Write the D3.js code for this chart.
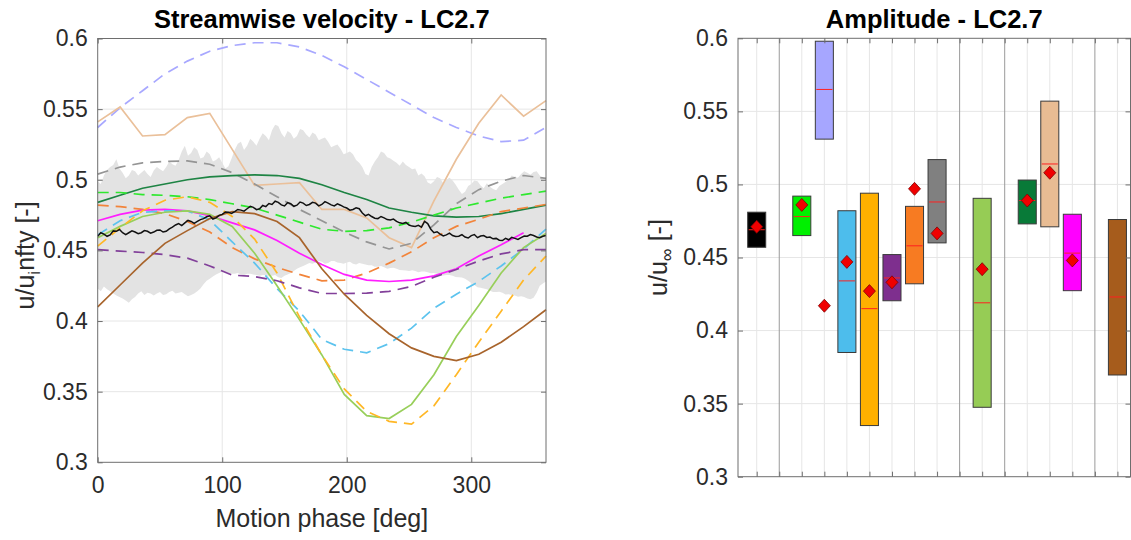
<!DOCTYPE html>
<html>
<head>
<meta charset="utf-8">
<script src="https://cdn.jsdelivr.net/npm/d3@7"></script>
<style>
  body { margin: 0; background: #fff; }
  svg { display: block; font-family: "Liberation Sans", Arial, Helvetica, sans-serif; }
</style>
</head>
<body>
<div id="chart"></div>
<script>
"use strict"

// ---------- left panel data: phase averaged u/u_inf ----------
const phase = d3.range(0, 361, 18)          // 21 samples, one every 18 deg
const phaseFine = d3.range(0, 360.1, 2.5)   // black line + grey band

const lavenderDash = [0.537,0.551,0.563,0.575,0.584,0.591,0.595,0.597,0.597,0.594,0.588,0.580,0.571,0.562,0.553,0.544,0.537,0.531,0.527,0.528,0.537]
const tanSolid     = [0.541,0.5515,0.531,0.532,0.544,0.547,0.5215,0.496,0.497,0.498,0.479,0.479,0.473,0.459,0.452,0.485,0.5145,0.540,0.560,0.545,0.556]
const grayDash     = [0.504,0.509,0.512,0.513,0.5134,0.511,0.505,0.497,0.488,0.479,0.471,0.463,0.456,0.451,0.455,0.468,0.483,0.493,0.499,0.503,0.501]
const darkGreen    = [0.484,0.489,0.494,0.497,0.500,0.502,0.503,0.5035,0.503,0.501,0.4965,0.491,0.486,0.480,0.477,0.4745,0.4735,0.474,0.476,0.479,0.482]
const greenDash    = [0.491,0.491,0.4895,0.489,0.488,0.486,0.483,0.480,0.475,0.470,0.465,0.4635,0.464,0.466,0.470,0.475,0.480,0.4835,0.487,0.4895,0.492]
const orangeDash   = [0.482,0.481,0.479,0.476,0.4705,0.463,0.452,0.444,0.438,0.433,0.4285,0.429,0.434,0.441,0.449,0.459,0.467,0.472,0.4775,0.480,0.4825]
const magentaSolid = [0.471,0.4755,0.4785,0.479,0.478,0.4745,0.4695,0.4645,0.457,0.448,0.440,0.433,0.429,0.428,0.429,0.432,0.437,0.446,0.454,0.4625,null]
const blueDash     = [0.461,0.471,0.477,0.478,0.478,0.4715,0.456,0.441,0.423,0.407,0.387,0.380,0.3775,0.384,0.395,0.409,0.419,0.428,0.439,0.451,0.465]
const lightGreen   = [0.459,0.467,0.474,0.477,0.478,0.4755,0.467,0.448,0.425,0.401,0.376,0.348,0.333,0.331,0.341,0.362,0.389,0.411,0.434,0.452,0.462]
const yellowDash   = [0.453,0.466,0.478,0.4855,0.488,0.484,0.474,0.458,0.434,0.403,0.376,0.352,0.336,0.329,0.327,0.340,0.362,0.385,0.407,0.429,0.446]
const purpleDash   = [0.4505,0.4495,0.4485,0.447,0.4445,0.439,0.4325,0.4315,0.4285,0.4235,0.4195,0.4195,0.4197,0.421,0.4245,0.431,0.4365,0.4425,0.4475,0.4505,0.4505]
const brownSolid   = [0.410,0.4255,0.441,0.455,0.464,0.4725,0.4775,0.476,0.4705,0.459,0.437,0.419,0.404,0.391,0.381,0.375,0.372,0.3765,0.385,0.396,0.408]

// measured signal, read at 0,5,...,360 and at the half steps in between
const blackAt5   = [0.460,0.4615,0.461,0.4635,0.4625,0.4625,0.463,0.4625,0.4635,0.463,0.4645,0.4635,0.4665,0.469,0.4695,0.4705,0.4705,0.4725,0.4745,0.473,0.4755,0.477,0.4775,0.4785,0.4795,0.4805,0.4795,0.481,0.4825,0.484,0.4815,0.483,0.482,0.4835,0.4825,0.4835,0.4825,0.4835,0.4815,0.482,0.480,0.479,0.4795,0.4745,0.474,0.4725,0.473,0.4715,0.4705,0.469,0.468,0.467,0.4665,0.469,0.4625,0.4615,0.461,0.4605,0.460,0.4595,0.4605,0.459,0.4605,0.4595,0.4585,0.457,0.4575,0.4585,0.459,0.460,0.4605,0.459,0.4605]
const blackHalf  = [0.4625,0.4600,0.4638,0.4648,0.4612,0.4638,0.4618,0.4640,0.4622,0.4642,0.4630,0.4652,0.4680,0.4676,0.4712,0.4692,0.4718,0.4738,0.4722,0.4748,0.4772,0.4762,0.4790,0.4778,0.4812,0.4788,0.4818,0.4832,0.4848,0.4822,0.4838,0.4812,0.4842,0.4818,0.4840,0.4815,0.4845,0.4822,0.4830,0.4808,0.4785,0.4802,0.4765,0.4755,0.4728,0.4740,0.4718,0.4722,0.4695,0.4698,0.4672,0.4678,0.4705,0.4650,0.4632,0.4602,0.4622,0.4598,0.4612,0.4588,0.4612,0.4602,0.4592,0.4582,0.4572,0.4585,0.4592,0.4578,0.4602,0.4612,0.4595,0.4600]
const bandHighAt5  = [0.499,0.503,0.509,0.5145,0.505,0.503,0.506,0.505,0.504,0.5065,0.5075,0.509,0.511,0.514,0.524,0.519,0.521,0.516,0.518,0.514,0.512,0.5095,0.521,0.527,0.524,0.527,0.529,0.531,0.535,0.538,0.530,0.533,0.531,0.535,0.530,0.532,0.529,0.527,0.524,0.522,0.519,0.518,0.512,0.504,0.509,0.516,0.519,0.515,0.512,0.513,0.509,0.508,0.5045,0.498,0.499,0.501,0.500,0.4995,0.493,0.4915,0.497,0.499,0.494,0.495,0.4925,0.497,0.500,0.502,0.504,0.505,0.5055,0.503,0.498]
const bandHighHalf = [0.497,0.507,0.5105,0.508,0.501,0.507,0.503,0.507,0.502,0.509,0.506,0.513,0.510,0.520,0.517,0.523,0.515,0.520,0.513,0.516,0.508,0.515,0.5255,0.521,0.529,0.524,0.533,0.528,0.539,0.533,0.5345,0.529,0.536,0.532,0.5335,0.528,0.530,0.523,0.525,0.518,0.520,0.514,0.509,0.503,0.513,0.520,0.516,0.5135,0.510,0.5105,0.5075,0.503,0.5025,0.497,0.502,0.4975,0.5015,0.4965,0.490,0.4955,0.4995,0.496,0.4975,0.4935,0.4955,0.4985,0.503,0.5015,0.506,0.5035,0.506,0.500]
const bandLowAt5   = [0.423,0.4245,0.421,0.418,0.416,0.413,0.417,0.421,0.420,0.418,0.4205,0.419,0.4215,0.420,0.419,0.4185,0.421,0.426,0.430,0.433,0.435,0.434,0.4335,0.433,0.4335,0.433,0.432,0.4325,0.432,0.431,0.432,0.434,0.437,0.439,0.441,0.4415,0.442,0.441,0.4425,0.441,0.4415,0.4405,0.441,0.440,0.4395,0.4385,0.438,0.4375,0.437,0.436,0.4355,0.4355,0.435,0.4345,0.434,0.433,0.4325,0.432,0.431,0.430,0.427,0.424,0.423,0.4215,0.4205,0.420,0.419,0.418,0.4175,0.416,0.4165,0.425,0.428]
const bandLowHalf  = [0.421,0.4225,0.4195,0.417,0.4145,0.4155,0.4195,0.4185,0.4195,0.4195,0.4185,0.4205,0.4195,0.4205,0.4175,0.4195,0.423,0.4285,0.4315,0.434,0.4345,0.4335,0.434,0.4325,0.4335,0.4325,0.4325,0.4315,0.4325,0.4305,0.433,0.4355,0.438,0.440,0.4405,0.4425,0.4405,0.4425,0.4415,0.4405,0.442,0.440,0.4405,0.4395,0.4385,0.439,0.437,0.4378,0.4362,0.4358,0.436,0.4345,0.435,0.4338,0.4335,0.4322,0.4325,0.4312,0.4308,0.4285,0.4255,0.4235,0.4225,0.4205,0.4208,0.4188,0.4185,0.4172,0.417,0.4155,0.420,0.4265]

const phaseTicks = [0, 100, 200, 300]
const velTicks = [0.3, 0.35, 0.4, 0.45, 0.5, 0.55, 0.6]
const velTickLabels = ["0.3", "0.35", "0.4", "0.45", "0.5", "0.55", "0.6"]

// ---------- right panel data: amplitude boxes ----------
const boxPos    = [1, 3, 4, 5, 6, 7, 8, 9, 11, 13, 14, 15, 17]
const boxTop    = [0.481, 0.492, 0.598, 0.482, 0.494, 0.452, 0.485, 0.517, 0.4905, 0.503, 0.557, 0.4796, 0.476]
const boxBottom = [0.457, 0.465, 0.531, 0.385, 0.335, 0.4204, 0.432, 0.460, 0.3475, 0.473, 0.471, 0.4273, 0.3696]
const boxMedian = [0.469, 0.478, 0.565, 0.434, 0.415, 0.436, 0.458, 0.488, 0.419, 0.489, 0.514, 0.453, 0.423]
const boxMean   = [0.471, 0.486, 0.417, 0.447, 0.427, 0.433, 0.497, 0.4665, 0.442, 0.489, 0.508, 0.448, null]
const boxColors = ["#000000", "#00f000", "#a6a6ff", "#4dbdec", "#ffb000", "#7e2f8e", "#f77b22", "#808080", "#96cc55", "#087a38", "#e8bc93", "#ff00ff", "#a65c1c"]
const sepPos = [2, 10, 12, 16]
const slotTicks = d3.range(1, 18)

// put the two reading passes back in phase order
const interleave = (a, b) => a.flatMap((v, i) => i < b.length ? [v, b[i]] : [v])
const blackMeasured = interleave(blackAt5, blackHalf)
const bandHigh = interleave(bandHighAt5, bandHighHalf)
const bandLow = interleave(bandLowAt5, bandLowHalf)

const W = 1131, H = 540
const axisColor = "#6e6e6e", textColor = "#2b2b2b", gridColor = "#e6e6e6"

const svg = d3.select("#chart").append("svg")
  .attr("width", W)
  .attr("height", H)

// ===================== left panel =====================
const xL = d3.scaleLinear().domain([0, 360]).range([97.7, 546])
const yL = d3.scaleLinear().domain([0.3, 0.6]).range([462.3, 38.5])

const left = svg.append("g")

// grid
left.selectAll(".gx").data(phaseTicks.slice(1)).join("line")
  .attr("x1", d => xL(d)).attr("x2", d => xL(d))
  .attr("y1", yL(0.3)).attr("y2", yL(0.6))
  .attr("stroke", gridColor)
left.selectAll(".gy").data(velTicks.slice(1, -1)).join("line")
  .attr("x1", xL(0)).attr("x2", xL(360))
  .attr("y1", d => yL(d)).attr("y2", d => yL(d))
  .attr("stroke", gridColor)

// spread band
left.append("path")
  .datum(d3.range(phaseFine.length))
  .attr("fill", "#e3e3e3")
  .attr("d", d3.area()
    .x(i => xL(phaseFine[i]))
    .y0(i => yL(bandLow[i]))
    .y1(i => yL(bandHigh[i])))

const series = [
  { v: lavenderDash, color: "#a8a8ff", dash: true },
  { v: tanSolid,     color: "#eac09a", dash: false },
  { v: grayDash,     color: "#959595", dash: true },
  { v: darkGreen,    color: "#1e8444", dash: false },
  { v: greenDash,    color: "#2ee82e", dash: true },
  { v: orangeDash,   color: "#f2843a", dash: true },
  { v: magentaSolid, color: "#ff1eff", dash: false },
  { v: blueDash,     color: "#5cc3ee", dash: true },
  { v: lightGreen,   color: "#98cf5a", dash: false },
  { v: yellowDash,   color: "#ffb726", dash: true },
  { v: purpleDash,   color: "#82409a", dash: true },
  { v: brownSolid,   color: "#a8642c", dash: false }
]

series.forEach(s => {
  left.append("path")
    .datum(d3.range(phase.length))
    .attr("fill", "none")
    .attr("stroke", s.color)
    .attr("stroke-width", 1.7)
    .attr("stroke-dasharray", s.dash ? "11,7" : null)
    .attr("d", d3.line()
      .defined(i => s.v[i] != null)
      .x(i => xL(phase[i]))
      .y(i => yL(s.v[i])))
})

left.append("path")
  .datum(d3.range(phaseFine.length))
  .attr("fill", "none")
  .attr("stroke", "#111")
  .attr("stroke-width", 1.5)
  .attr("d", d3.line()
    .x(i => xL(phaseFine[i]))
    .y(i => yL(blackMeasured[i])))

// frame + ticks
left.append("rect")
  .attr("x", xL(0)).attr("y", yL(0.6))
  .attr("width", xL(360) - xL(0)).attr("height", yL(0.3) - yL(0.6))
  .attr("fill", "none").attr("stroke", axisColor)

const tickStyle = g => {
  g.select(".domain").remove()
  g.selectAll("line").attr("stroke", axisColor)
  g.selectAll("text").attr("fill", textColor).attr("font-size", 23)
}

left.append("g")
  .attr("transform", `translate(0,${yL(0.3)})`)
  .call(d3.axisBottom(xL).tickValues(phaseTicks).tickSize(-5).tickPadding(14))
  .call(tickStyle)
left.append("g")
  .attr("transform", `translate(0,${yL(0.6)})`)
  .call(d3.axisTop(xL).tickValues(phaseTicks).tickSize(-5).tickFormat(""))
  .call(tickStyle)
left.append("g")
  .attr("transform", `translate(${xL(0)},0)`)
  .call(d3.axisLeft(yL).tickValues(velTicks).tickSize(-5).tickPadding(10)
    .tickFormat((d, i) => velTickLabels[i]))
  .call(tickStyle)
left.append("g")
  .attr("transform", `translate(${xL(360)},0)`)
  .call(d3.axisRight(yL).tickValues(velTicks).tickSize(-5).tickFormat(""))
  .call(tickStyle)

left.append("text")
  .attr("x", (xL(0) + xL(360)) / 2).attr("y", 28)
  .attr("text-anchor", "middle")
  .attr("font-size", 25.5).attr("font-weight", "bold").attr("fill", "#000")
  .text("Streamwise velocity - LC2.7")

left.append("text")
  .attr("x", (xL(0) + xL(360)) / 2).attr("y", 527)
  .attr("text-anchor", "middle")
  .attr("font-size", 25).attr("fill", textColor)
  .text("Motion phase [deg]")

const yLabL = left.append("text")
  .attr("transform", `translate(34,${(yL(0.3) + yL(0.6)) / 2 + 5}) rotate(-90)`)
  .attr("text-anchor", "middle")
  .attr("font-size", 25).attr("fill", textColor)
yLabL.append("tspan").text("u/u")
yLabL.append("tspan").attr("dy", 6).attr("font-size", 17).text("i")
yLabL.append("tspan").attr("dy", -6).text("nfty [-]")

// ===================== right panel =====================
const xR = d3.scaleLinear().domain([0.17, 17.58]).range([738, 1130.5])
const yR = d3.scaleLinear().domain([0.3, 0.6]).range([476.7, 38.3])

const right = svg.append("g")

right.selectAll(".gx").data(slotTicks.filter(d => !sepPos.includes(d))).join("line")
  .attr("x1", d => xR(d)).attr("x2", d => xR(d))
  .attr("y1", yR(0.3)).attr("y2", yR(0.6))
  .attr("stroke", gridColor)
right.selectAll(".gy").data(velTicks.slice(1, -1)).join("line")
  .attr("x1", xR(0.17)).attr("x2", xR(17.58))
  .attr("y1", d => yR(d)).attr("y2", d => yR(d))
  .attr("stroke", gridColor)
right.selectAll(".sep").data(sepPos).join("line")
  .attr("x1", d => xR(d)).attr("x2", d => xR(d))
  .attr("y1", yR(0.3)).attr("y2", yR(0.6))
  .attr("stroke", "#9a9a9a")

const halfW = 0.4
right.selectAll(".box").data(d3.range(boxPos.length)).join("rect")
  .attr("x", i => xR(boxPos[i] - halfW))
  .attr("width", i => xR(boxPos[i] + halfW) - xR(boxPos[i] - halfW))
  .attr("y", i => yR(boxTop[i]))
  .attr("height", i => yR(boxBottom[i]) - yR(boxTop[i]))
  .attr("fill", i => boxColors[i])
  .attr("stroke", "#3a3a3a")
  .attr("stroke-width", 1)

right.selectAll(".med").data(d3.range(boxPos.length)).join("line")
  .attr("x1", i => xR(boxPos[i] - halfW) + 1)
  .attr("x2", i => xR(boxPos[i] + halfW) - 1)
  .attr("y1", i => yR(boxMedian[i]))
  .attr("y2", i => yR(boxMedian[i]))
  .attr("stroke", "#ff2020")
  .attr("stroke-width", 1)

const diamond = (cx, cy) => `M${cx},${cy - 6.5}L${cx + 6},${cy}L${cx},${cy + 6.5}L${cx - 6},${cy}Z`
right.selectAll(".mean").data(d3.range(boxPos.length).filter(i => boxMean[i] != null)).join("path")
  .attr("d", i => diamond(xR(boxPos[i]), yR(boxMean[i])))
  .attr("fill", "#f00000")
  .attr("stroke", "#800000")
  .attr("stroke-width", 0.8)

right.append("rect")
  .attr("x", xR(0.17)).attr("y", yR(0.6))
  .attr("width", xR(17.58) - xR(0.17)).attr("height", yR(0.3) - yR(0.6))
  .attr("fill", "none").attr("stroke", axisColor)

right.append("g")
  .attr("transform", `translate(0,${yR(0.3)})`)
  .call(d3.axisBottom(xR).tickValues(slotTicks).tickSize(-5).tickFormat(""))
  .call(tickStyle)
right.append("g")
  .attr("transform", `translate(0,${yR(0.6)})`)
  .call(d3.axisTop(xR).tickValues(slotTicks).tickSize(-5).tickFormat(""))
  .call(tickStyle)
right.append("g")
  .attr("transform", `translate(${xR(0.17)},0)`)
  .call(d3.axisLeft(yR).tickValues(velTicks).tickSize(-5).tickPadding(10)
    .tickFormat((d, i) => velTickLabels[i]))
  .call(tickStyle)
right.append("g")
  .attr("transform", `translate(${xR(17.58)},0)`)
  .call(d3.axisRight(yR).tickValues(velTicks).tickSize(-5).tickFormat(""))
  .call(tickStyle)

right.append("text")
  .attr("x", (xR(0.17) + xR(17.58)) / 2).attr("y", 28)
  .attr("text-anchor", "middle")
  .attr("font-size", 25.5).attr("font-weight", "bold").attr("fill", "#000")
  .text("Amplitude - LC2.7")

const yLabR = right.append("text")
  .attr("transform", `translate(667,${(yR(0.3) + yR(0.6)) / 2}) rotate(-90)`)
  .attr("text-anchor", "middle")
  .attr("font-size", 25).attr("fill", textColor)
yLabR.append("tspan").text("u/u")
yLabR.append("tspan").attr("dy", 6).attr("font-size", 18).text("\u221e")
yLabR.append("tspan").attr("dy", -6).text(" [-]")
</script>
</body>
</html>
